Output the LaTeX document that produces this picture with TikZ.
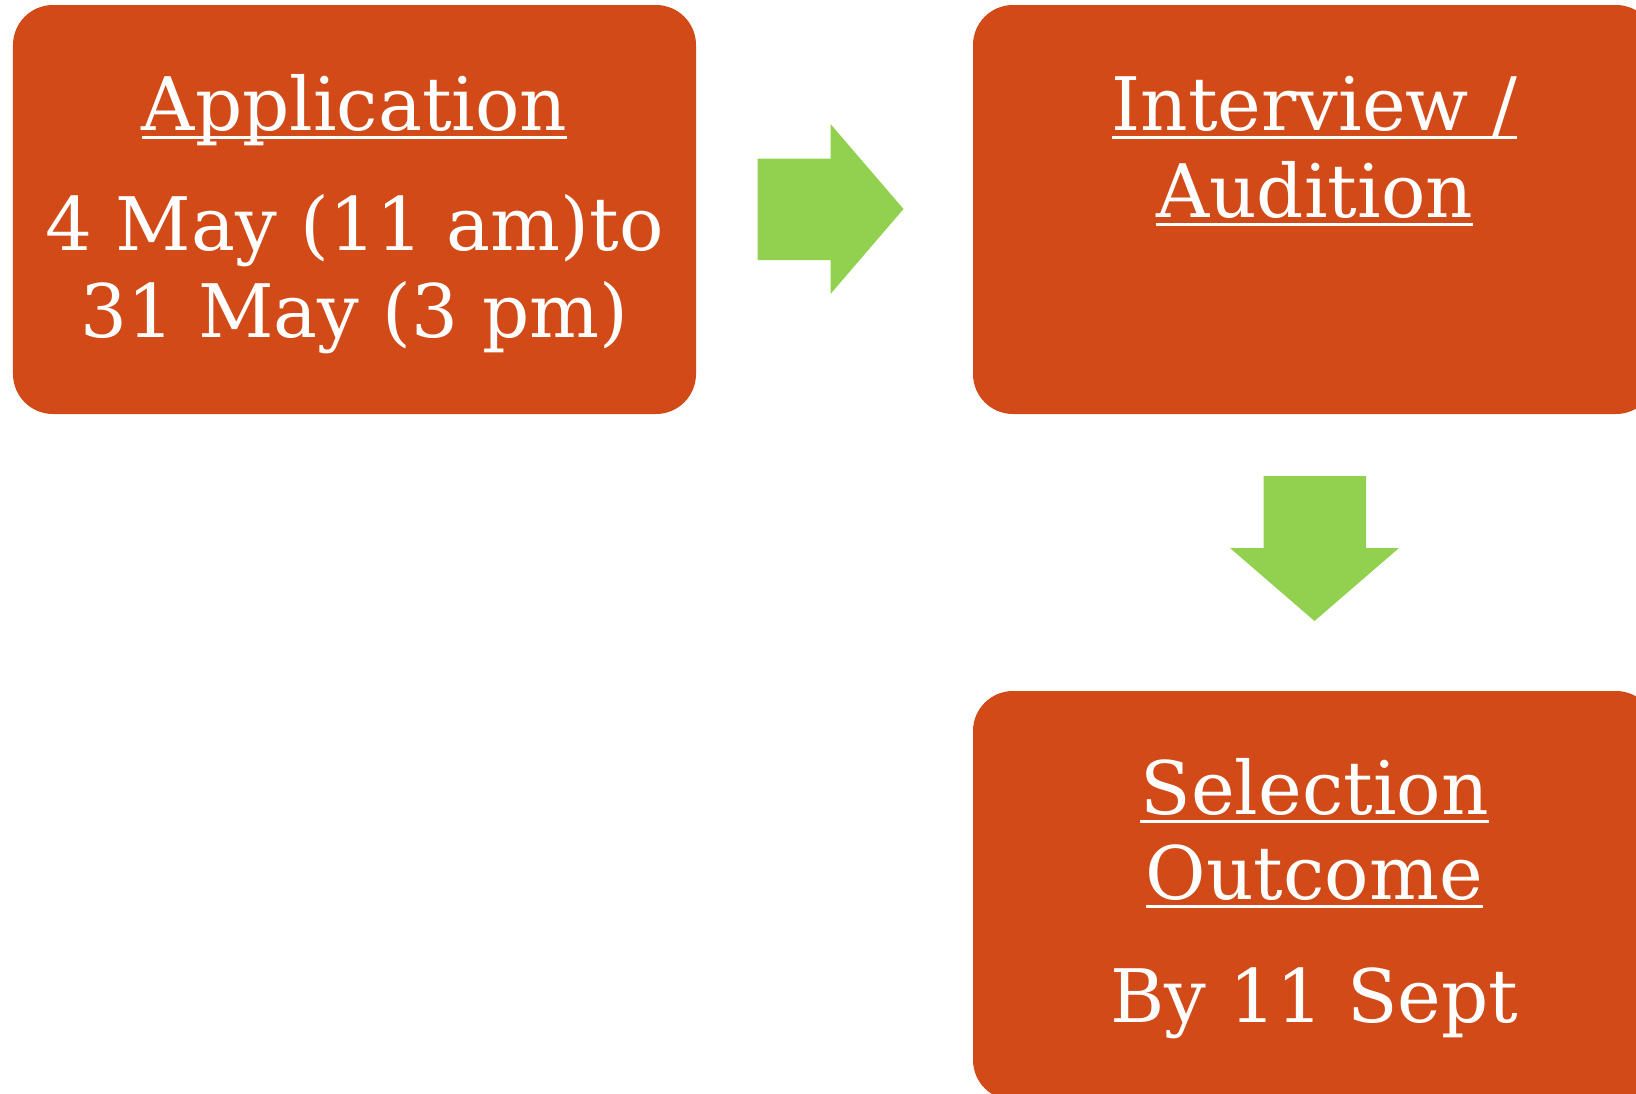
\documentclass[tikz,border=0pt]{standalone}
\usepackage{fontspec}
\setmainfont{DejaVu Serif}
\usepackage{tikz}
\definecolor{boxorange}{RGB}{210,74,24}
\definecolor{arrowgreen}{RGB}{146,208,80}
\newcommand{\ulword}[1]{\setbox0\hbox{#1}\rlap{\rule[-5pt]{\wd0}{1.7pt}}\box0}

\begin{document}
\begin{tikzpicture}[
    stage/.style={fill=boxorange, rounded corners=0.8cm, minimum width=13.66cm, minimum height=8.18cm, inner sep=0pt},
    txt/.style={text=white, anchor=base, inner sep=0pt, font=\fontsize{42}{50}\selectfont},
    blockarrow/.style={fill=arrowgreen, draw=none}]
    \useasboundingbox (0,0) rectangle (32.72,-21.88);
    \clip (0,0) rectangle (32.72,-21.88);

    % Boxes
    \node[stage] (app) at (7.09,-4.19) {};
    \node[stage] (intv) at (26.29,-4.19) {};
    \node[stage] (sel) at (26.29,-17.91) {};

    % Texts
    \node[txt] (apptitle) at (7.09,-2.6) {\ulword{Application}};
    \node[txt] (appfrom) at (7.09,-5.0) {4 May (11 am)to};
    \node[txt] (appto) at (7.09,-6.74) {31 May (3 pm)};
    \node[txt] (intvtitle) at (26.29,-2.6) {\ulword{Interview /}};
    \node[txt] (intvtitleb) at (26.29,-4.34) {\ulword{Audition}};
    \node[txt] (seltitle) at (26.29,-16.28) {\ulword{Selection}};
    \node[txt] (seltitleb) at (26.29,-17.98) {\ulword{Outcome}};
    \node[txt] (seldate) at (26.29,-20.44) {By 11 Sept};

    % Arrows
    \fill[blockarrow] (15.15,-3.17) -- (16.61,-3.17) -- (16.61,-2.48) -- (18.07,-4.18)
        -- (16.61,-5.88) -- (16.61,-5.20) -- (15.15,-5.20) -- cycle;
    \fill[blockarrow] (25.27,-9.52) -- (27.32,-9.52) -- (27.32,-10.96) -- (27.98,-10.96)
        -- (26.29,-12.42) -- (24.6,-10.96) -- (25.27,-10.96) -- cycle;

\end{tikzpicture}
\end{document}
